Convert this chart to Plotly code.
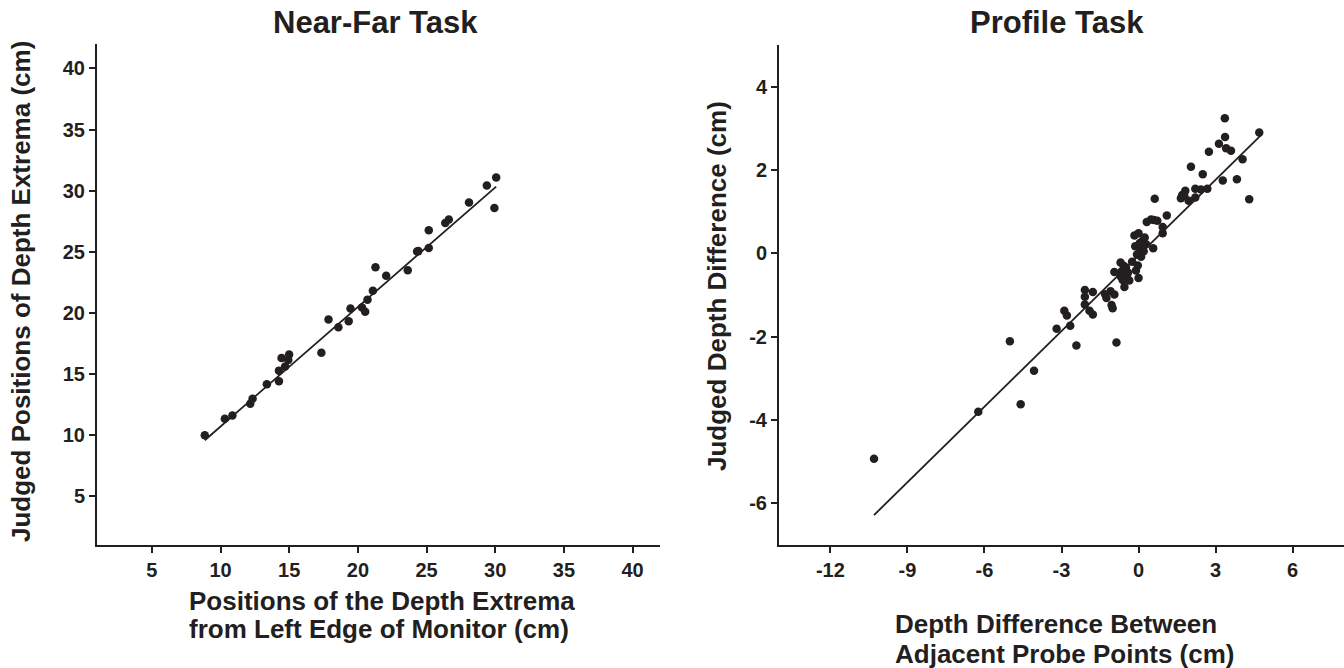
import numpy as np
import plotly.graph_objects as go

# ---------------- Data ----------------
# Near-Far task
nf_x = [8.85, 10.31, 10.86, 12.16, 12.33, 13.37, 14.25, 14.25, 14.44, 14.70, 14.93, 14.99,
        17.34, 17.86, 18.58, 19.33, 19.46, 20.30, 20.53, 20.70, 21.09, 21.28, 22.06, 23.63,
        24.31, 24.40, 25.16, 25.16, 26.36, 26.62, 28.09, 29.39, 29.94, 30.07]
nf_y = [9.98, 11.33, 11.60, 12.55, 12.97, 14.15, 14.40, 15.27, 16.31, 15.60, 16.14, 16.59,
        16.73, 19.45, 18.82, 19.31, 20.36, 20.43, 20.08, 21.08, 21.81, 23.73, 23.04, 23.49,
        25.02, 25.05, 26.76, 25.30, 27.35, 27.63, 29.03, 30.42, 28.58, 31.08]
nf_fit_slope = 0.978
nf_fit_intercept = 0.92

# Profile task
pr_x = [-10.30, -6.24, -5.01, -4.59, -4.07, -3.19, -2.89, -2.79, -2.66, -2.42,
        -2.09, -2.09, -2.09, -1.91, -1.78, -1.78, -1.30, -1.25, -1.09, -1.05,
        -1.01, -0.94, -0.94, -0.86, -0.70, -0.65, -0.62, -0.55, -0.49, -0.45,
        -0.41, -0.36, -0.16, -0.13, -0.10, -0.06, -0.03, 0.00, 0.00, 0.06,
        0.10, 0.16, 0.24, 0.29, 0.32, 0.49, 0.57, 0.63, 0.73, 0.94,
        0.94, 1.10, 1.65, 1.70, 1.82, 1.95, 2.04, 2.21, 2.21, 2.50,
        2.43, 2.68, 2.74, 3.13, 3.28, 3.36, 3.37, 3.41, 3.60, 3.83,
        4.05, 4.31, 4.70, -0.58, -0.70, 0.20, -0.25, 0.05, 1.78, 0.60]
pr_y = [-4.93, -3.80, -2.11, -3.62, -2.82, -1.81, -1.38, -1.49, -1.74, -2.21,
        -0.88, -1.04, -1.23, -1.38, -0.93, -1.47, -0.98, -1.07, -0.91, -1.24,
        -1.32, -0.99, -0.45, -2.14, -0.22, -0.43, -0.64, -0.81, -0.34, -0.54,
        -0.46, -0.65, 0.43, 0.17, -0.41, -0.03, -0.29, 0.48, -0.59, 0.12,
        -0.08, 0.30, 0.38, 0.22, 0.75, 0.81, 0.12, 1.31, 0.78, 0.48,
        0.63, 0.91, 1.32, 1.40, 1.50, 1.26, 2.08, 1.55, 1.34, 1.90,
        1.53, 1.55, 2.44, 2.63, 1.75, 3.24, 2.79, 2.52, 2.46, 1.78,
        2.26, 1.30, 2.90, -0.30, -0.55, 0.05, -0.20, 0.25, 1.38, 0.80]
pr_fit_slope = 0.605
pr_fit_intercept = -0.05

nf_xticks = [5, 10, 15, 20, 25, 30, 35, 40]
nf_yticks = [5, 10, 15, 20, 25, 30, 35, 40]
pr_xticks = [-12, -9, -6, -3, 0, 3, 6]
pr_yticks = [-6, -4, -2, 0, 2, 4]

# ---------------- Figure ----------------
W, H = 1344, 668
FONT = "Liberation Sans, Arial, Helvetica, sans-serif"
INK = "#231f20"

fig = go.Figure()

fig.add_trace(go.Scatter(x=nf_x, y=nf_y, mode="markers",
                         marker=dict(color=INK, size=8.5), xaxis="x", yaxis="y",
                         showlegend=False))
lx = np.array([min(nf_x), max(nf_x)])
fig.add_trace(go.Scatter(x=lx, y=nf_fit_slope * lx + nf_fit_intercept, mode="lines",
                         line=dict(color=INK, width=1.8), xaxis="x", yaxis="y",
                         showlegend=False))

fig.add_trace(go.Scatter(x=pr_x, y=pr_y, mode="markers",
                         marker=dict(color=INK, size=8.5), xaxis="x2", yaxis="y2",
                         showlegend=False))
px_ = np.array([min(pr_x), max(pr_x) + 0.1])
fig.add_trace(go.Scatter(x=px_, y=pr_fit_slope * px_ + pr_fit_intercept, mode="lines",
                         line=dict(color=INK, width=1.8), xaxis="x2", yaxis="y2",
                         showlegend=False))

def px2fx(p):
    return p / W

def px2fy(p):
    return 1 - p / H

def fmt(v):
    return ("-" + str(abs(v))) if v < 0 else str(v)

axis_common = dict(showline=True, linecolor=INK, linewidth=2, ticks="outside",
                   tickcolor=INK, ticklen=6, tickwidth=1.5, showgrid=False,
                   zeroline=False, mirror=False,
                   tickfont=dict(family=FONT, size=20, color=INK))

fig.update_layout(
    width=W, height=H,
    margin=dict(l=0, r=0, t=0, b=0),
    paper_bgcolor="white", plot_bgcolor="white",
    xaxis=dict(domain=[px2fx(97), px2fx(660)], range=[1, 42], tickvals=nf_xticks,
               ticktext=["<b>%s</b>" % fmt(v) for v in nf_xticks],
               anchor="y", **axis_common),
    yaxis=dict(domain=[px2fy(545), px2fy(44)], range=[1, 42], tickvals=nf_yticks,
               ticktext=["<b>%s</b>" % fmt(v) for v in nf_yticks],
               anchor="x", **axis_common),
    xaxis2=dict(domain=[px2fx(779), 1.0], range=[-14, 8], tickvals=pr_xticks,
                ticktext=["<b>%s</b>" % fmt(v) for v in pr_xticks],
                anchor="y2", **axis_common),
    yaxis2=dict(domain=[px2fy(545), px2fy(45)], range=[-7, 5], tickvals=pr_yticks,
                ticktext=["<b>%s</b>" % fmt(v) for v in pr_yticks],
                anchor="x2", **axis_common),
)

def ann(text, x, y, size, xanchor="center", yanchor="middle", angle=0, align="center"):
    fig.add_annotation(text=text, x=px2fx(x), y=px2fy(y), xref="paper", yref="paper",
                       showarrow=False, xanchor=xanchor, yanchor=yanchor, textangle=angle,
                       align=align, font=dict(family=FONT, size=size, color=INK))

ann("<b>Near-Far Task</b>", 375, 23, 31)
ann("<b>Profile Task</b>", 1057, 23, 31)
ann("<b>Positions of the Depth Extrema</b>", 187, 601, 26, xanchor="left")
ann("<b>from Left Edge of Monitor (cm)</b>", 187, 629, 26, xanchor="left")
ann("<b>Depth Difference Between</b>", 893, 624, 26, xanchor="left")
ann("<b>Adjacent Probe Points (cm)</b>", 893, 654, 26, xanchor="left")
ann("<b>Judged Positions of Depth Extrema (cm)</b>", 21, 292, 26, angle=-90)
ann("<b>Judged Depth Difference (cm)</b>", 717, 286, 26, angle=-90)

fig.write_html("out.html", post_script="document.body.style.margin='0';",
               config={"displayModeBar": False})
